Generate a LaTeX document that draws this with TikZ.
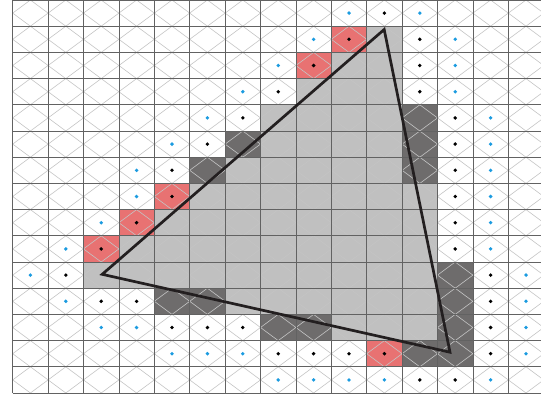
\documentclass[tikz,border=0pt]{standalone}
\definecolor{lgray}{HTML}{C0C0C0}
\definecolor{dgray}{HTML}{6E6C6C}
\definecolor{cred}{HTML}{E87272}
\definecolor{cblue}{HTML}{1B9BE0}
\definecolor{gridc}{HTML}{626262}
\definecolor{diamc}{HTML}{C4C4C4}
\definecolor{tric}{HTML}{231F20}
\begin{document}
\begin{tikzpicture}[x=35.4pt,y=-26.2pt,
  lcell/.style={fill=lgray},
  dcell/.style={fill=dgray},
  rcell/.style={fill=cred},
  diam/.style={draw=diamc,line width=0.6pt},
  gridline/.style={draw=gridc,line width=0.75pt},
  bdot/.style={fill=black},
  udot/.style={fill=cblue},
  tri/.style={draw=tric,line width=2.7pt,line join=miter}]
\useasboundingbox (-0.35876,0) rectangle (14.9237,15.229);
\begin{scope}
\clip (-0.35876,0) rectangle (14.9237,15.229);
% light gray cells: row / first col / last col
\foreach \r/\a/\b in {1/10/10,2/9/10,3/8/10,4/7/10,5/7/10,6/6/10,7/5/11,8/4/11,9/3/11,10/2/11,11/6/11,12/9/11}
  \fill[lcell] (\a,\r) rectangle (\b+1,\r+1);
% dark gray cells
\foreach \c/\r in {11/4,11/5,11/6,6/5,5/6,12/10,4/11,5/11,12/11,7/12,8/12,12/12,11/13,12/13}
  \fill[dcell] (\c,\r) rectangle (\c+1,\r+1);
% red cells
\foreach \c/\r in {9/1,8/2,4/7,3/8,2/9,10/13}
  \fill[rcell] (\c,\r) rectangle (\c+1,\r+1);
% diamonds
\foreach \c in {0,...,14}
  \foreach \r in {0,...,14}
    \draw[diam] (\c+0.5,\r) -- (\c+1,\r+0.5) -- (\c+0.5,\r+1) -- (\c,\r+0.5) -- cycle;
% grid
\foreach \c in {0,...,15} \draw[gridline] (\c,0) -- (\c,15);
\foreach \r in {0,...,15} \draw[gridline] (0,\r) -- (15,\r);
% black dots
\foreach \c/\r in {10/0,9/1,11/1,8/2,11/2,7/3,11/3,6/4,12/4,5/5,12/5,4/6,12/6,4/7,12/7,3/8,12/8,2/9,12/9,1/10,13/10,2/11,3/11,13/11,4/12,5/12,6/12,13/12,7/13,8/13,9/13,10/13,13/13,11/14,12/14}
  \fill[bdot] (\c+0.5,\r+0.5) circle[radius=1.9pt];
% blue dots
\foreach \c/\r in {9/0,11/0,8/1,12/1,7/2,12/2,6/3,12/3,5/4,13/4,4/5,13/5,3/6,13/6,3/7,13/7,2/8,13/8,1/9,13/9,0/10,14/10,1/11,14/11,2/12,3/12,14/12,4/13,5/13,6/13,14/13,7/14,8/14,9/14,10/14,13/14}
  \fill[udot] (\c+0.5,\r+0.5) circle[radius=1.9pt];
% triangle
\coordinate (A) at (10.494,1.126);
\coordinate (B) at (2.528,10.47);
\coordinate (C) at (12.353,13.443);
\draw[tri] (A) -- (B) -- (C) -- cycle;
\end{scope}
\end{tikzpicture}
\end{document}
